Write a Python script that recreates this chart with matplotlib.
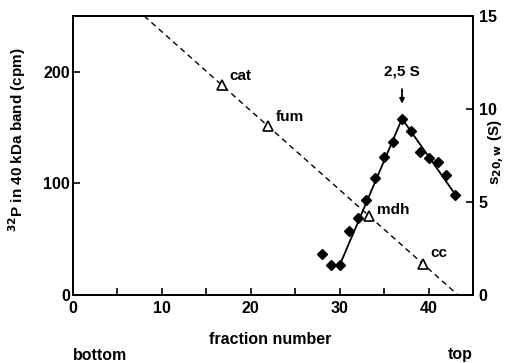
import matplotlib.pyplot as plt

plt.rcParams['font.family'] = ['Liberation Sans', 'DejaVu Sans']
plt.rcParams['font.weight'] = 'bold'

# 32P counts in the 40 kDa band per gradient fraction
fractions = [28, 29, 30, 31, 32, 33, 34, 35, 36, 37, 38, 39, 40, 41, 42, 43]
cpm = [37, 27, 27, 57, 69, 85, 105, 124, 137, 158, 147, 128, 123, 119, 108, 90]

# solid fit through the profile (rising and falling limbs)
fit_x = [30, 37, 43]
fit_y = [27, 158, 90]

# sedimentation standards (S values on the right axis)
std_names = ['cat', 'fum', 'mdh', 'cc']
std_frac = [16.7, 21.9, 33.3, 39.4]
std_s = [11.3, 9.1, 4.25, 1.65]

# calibration line ends
calib_x = [8.0, 43.3]
calib_s = [15.0, 0.0]

peak_frac = 37
peak_label = '2,5 S'

fig = plt.figure(figsize=(5.16, 3.63), dpi=100)
ax = fig.add_axes([0.1415, 0.187, 0.917 - 0.1415, 0.956 - 0.187])
ax2 = ax.twinx()

ax.set_xlim(0, 45)
ax.set_ylim(0, 250)
ax2.set_ylim(0, 15)

ax.plot(fit_x, fit_y, color='black', lw=1.3, zorder=3)
ax.plot(fractions, cpm, linestyle='none', marker='D', markersize=5.5,
        color='black', zorder=4)

ax2.plot(calib_x, calib_s, color='black', lw=1.0, linestyle=(0, (4, 3)))
ax2.plot(std_frac, std_s, linestyle='none', marker='^', markersize=7,
         markerfacecolor='white', markeredgecolor='black', markeredgewidth=1.2)
offsets = {'cat': (6, 1), 'fum': (6, 1), 'mdh': (6, -1), 'cc': (5, 3)}
for name, fx, s in zip(std_names, std_frac, std_s):
    ax2.annotate(name, (fx, s), xytext=offsets[name], textcoords='offset points',
                 fontsize=11, fontweight='bold', ha='left', va='bottom')

ax.annotate('', xy=(peak_frac, 169), xytext=(peak_frac, 187),
            arrowprops=dict(arrowstyle='-|>', color='black', lw=1.3,
                            mutation_scale=7))
ax.text(peak_frac, 200, peak_label, ha='center', va='center',
        fontsize=11, fontweight='bold')

for a in (ax, ax2):
    for sp in a.spines.values():
        sp.set_linewidth(1.3)

ax.set_xticks([0, 10, 20, 30, 40])
ax.set_xticks([5, 15, 25, 35], minor=True)
ax.set_yticks([0, 100, 200])
ax2.set_yticks([0, 5, 10, 15])
ax.tick_params(axis='x', which='both', direction='in', length=5, width=1.2,
               labelsize=11.5, pad=4)
ax.tick_params(axis='y', direction='in', length=5, width=1.2, labelsize=11.5, pad=2)
ax2.tick_params(axis='y', direction='in', length=5, width=1.2, labelsize=11.5, pad=4)

fig.text(0.523, 1 - 339 / 363, 'fraction number', fontsize=11.5,
         fontweight='bold', ha='center', va='center')
fig.text(17 / 516, 1 - 140 / 363, '$^{\\mathbf{32}}$P in 40 kDa band (cpm)',
         rotation=90, fontsize=11, fontweight='bold', ha='center', va='center')
fig.text(497 / 516, 1 - 152 / 363, 's$_{\\mathbf{20,w}}$ (S)', rotation=90,
         fontsize=11, fontweight='bold', ha='center', va='center')

fig.text(73 / 516, 1 - 355 / 363, 'bottom', fontsize=11.5, fontweight='bold',
         ha='left', va='center')
fig.text(473 / 516, 1 - 355 / 363, 'top', fontsize=11.5, fontweight='bold',
         ha='right', va='center')

fig.savefig('out.png', dpi=100)
